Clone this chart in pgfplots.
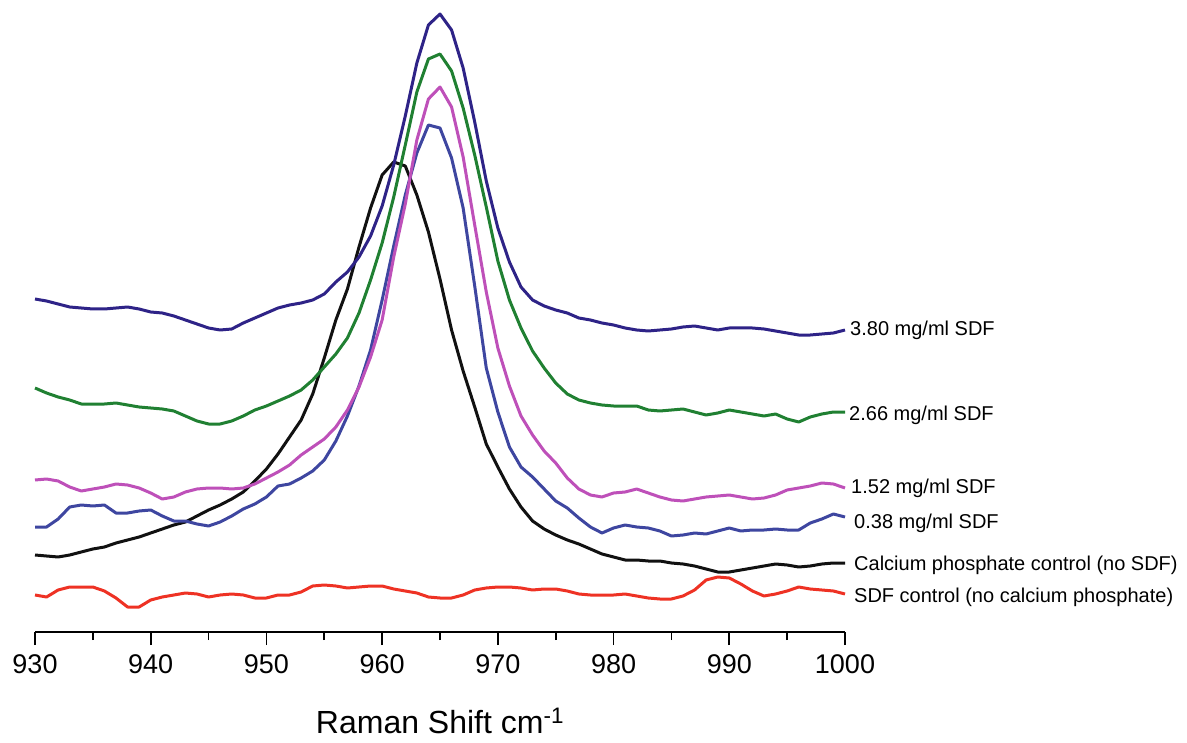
\documentclass[border=0pt]{standalone}
\usepackage{fontspec}
\setmainfont{Liberation Sans}
\usepackage{pgfplots}
\pgfplotsset{compat=1.18}
\usepackage{pgfplotstable}

\definecolor{cnavy}{RGB}{46,35,135}
\definecolor{cgreen}{RGB}{32,128,50}
\definecolor{cmagenta}{RGB}{190,80,185}
\definecolor{cblue}{RGB}{62,70,160}
\definecolor{cblack}{RGB}{17,17,17}
\definecolor{cred}{RGB}{238,50,36}

\tikzset{trace label/.style={anchor=base west, inner sep=0pt, font=\fontsize{20}{24}\selectfont}}

% intensities (arbitrary units, offset traces)
\pgfplotstableread{
x navy green magenta blue black red
930 333 244 152 105 77 37
931 331 239 153 105 76 35
932 328 235 151 113 75 42
933 325 232 145 125 77 45
934 324 228 141 127 80 45
935 323 228 143 126 83 45
936 323 228 145 127 85 41
937 324 229 148 119 89 34
938 325 227 147 119 92 25
939 323 225 144 121 95 25
940 320 224 139 122 99 32
941 319 223 133 116 103 35
942 316 221 135 111 107 37
943 312 216 140 111 110 39
944 308 211 143 108 116 38
945 304 208 144 106 122 35
946 302 208 144 110 127 37
947 303 211 143 116 133 38
948 309 216 144 123 140 37
949 314 222 148 128 151 34
950 319 226 154 135 163 34
951 324 231 160 146 178 37
952 327 236 167 148 195 37
953 329 242 177 154 212 40
954 332 252 185 161 238 46
955 338 265 193 172 274 47
956 350 278 205 191 312 46
957 360 294 222 216 343 44
958 375 319 245 246 385 45
959 396 352 275 282 424 46
960 426 389 312 332 457 46
961 467 435 375 386 470 43
962 516 487 428 437 466 41
963 569 540 492 479 437 39
964 607 573 533 507 400 35
965 618 578 545 504 353 34
966 602 561 525 474 302 34
967 564 524 475 424 261 37
968 510 477 407 346 225 42
969 451 425 340 264 188 44
970 404 371 284 220 165 45
971 370 332 246 185 143 45
972 345 304 216 165 125 44
973 332 281 197 155 111 42
974 326 264 181 143 103 43
975 322 249 169 131 97 43
976 319 238 154 124 92 41
977 314 232 143 114 88 38
978 312 229 137 105 83 37
979 309 227 135 99 78 37
980 307 226 139 104 75 37
981 304 226 140 107 72 38
982 302 226 143 105 72 36
983 301 222 139 104 71 34
984 302 221 135 101 71 33
985 303 222 132 96 69 33
986 305 223 131 97 68 36
987 306 220 133 99 66 42
988 304 217 135 98 63 52
989 302 219 136 101 60 55
990 304 222 137 104 60 54
991 304 220 135 101 62 48
992 304 218 133 102 64 41
993 303 216 134 102 66 36
994 301 218 137 103 68 38
995 299 213 142 102 67 41
996 297 210 144 102 65 45
997 297 215 146 109 66 43
998 298 218 149 113 68 42
999 299 220 148 118 69 41
1000 302 220 144 115 69 38
}\spectra

\begin{document}
\begin{tikzpicture}
\path[use as bounding box] (0pt,0pt) rectangle (1187pt,-743pt);
\begin{axis}[
    at={(35pt,-632pt)}, anchor=south west,
    scale only axis, width=810pt, height=632pt,
    xmin=930, xmax=1000, ymin=0, ymax=632,
    axis x line=bottom, axis y line=none,
    axis line style={-, line width=1.8pt, black},
    xtick={930,940,...,1000},
    minor xtick={935,945,...,995},
    tick align=outside,
    major tick length=13pt, minor tick length=8pt,
    every tick/.style={line width=1.8pt, black},
    /pgf/number format/assume math mode=true,
    /pgf/number format/1000 sep={},
    xticklabel style={font=\fontsize{27}{30}\selectfont},
    xticklabel shift=6pt,
    xlabel={Raman Shift cm\textsuperscript{-1}},
    xlabel style={font=\fontsize{32}{36}\selectfont, at={(rel axis cs:0.5,0)},
                  anchor=base, yshift=-101pt},
    clip=false,
    every axis plot/.append style={line width=3pt, line join=round},
]
\addplot[cred]     table[x=x, y=red]     {\spectra};
\addplot[cblack]   table[x=x, y=black]   {\spectra};
\addplot[cblue]    table[x=x, y=blue]    {\spectra};
\addplot[cmagenta] table[x=x, y=magenta] {\spectra};
\addplot[cgreen]   table[x=x, y=green]   {\spectra};
\addplot[cnavy]    table[x=x, y=navy]    {\spectra};

\node[trace label, xshift=5pt] at (axis cs:1000,296) {3.80 mg/ml SDF};
\node[trace label, xshift=4pt] at (axis cs:1000,212) {2.66 mg/ml SDF};
\node[trace label, xshift=6pt] at (axis cs:1000,139) {1.52 mg/ml SDF};
\node[trace label, xshift=9pt] at (axis cs:1000,104) {0.38 mg/ml SDF};
\node[trace label, xshift=9pt] at (axis cs:1000,62) {Calcium phosphate control (no SDF)};
\node[trace label, xshift=9pt] at (axis cs:1000,30) {SDF control (no calcium phosphate)};
\end{axis}
\end{tikzpicture}
\end{document}
